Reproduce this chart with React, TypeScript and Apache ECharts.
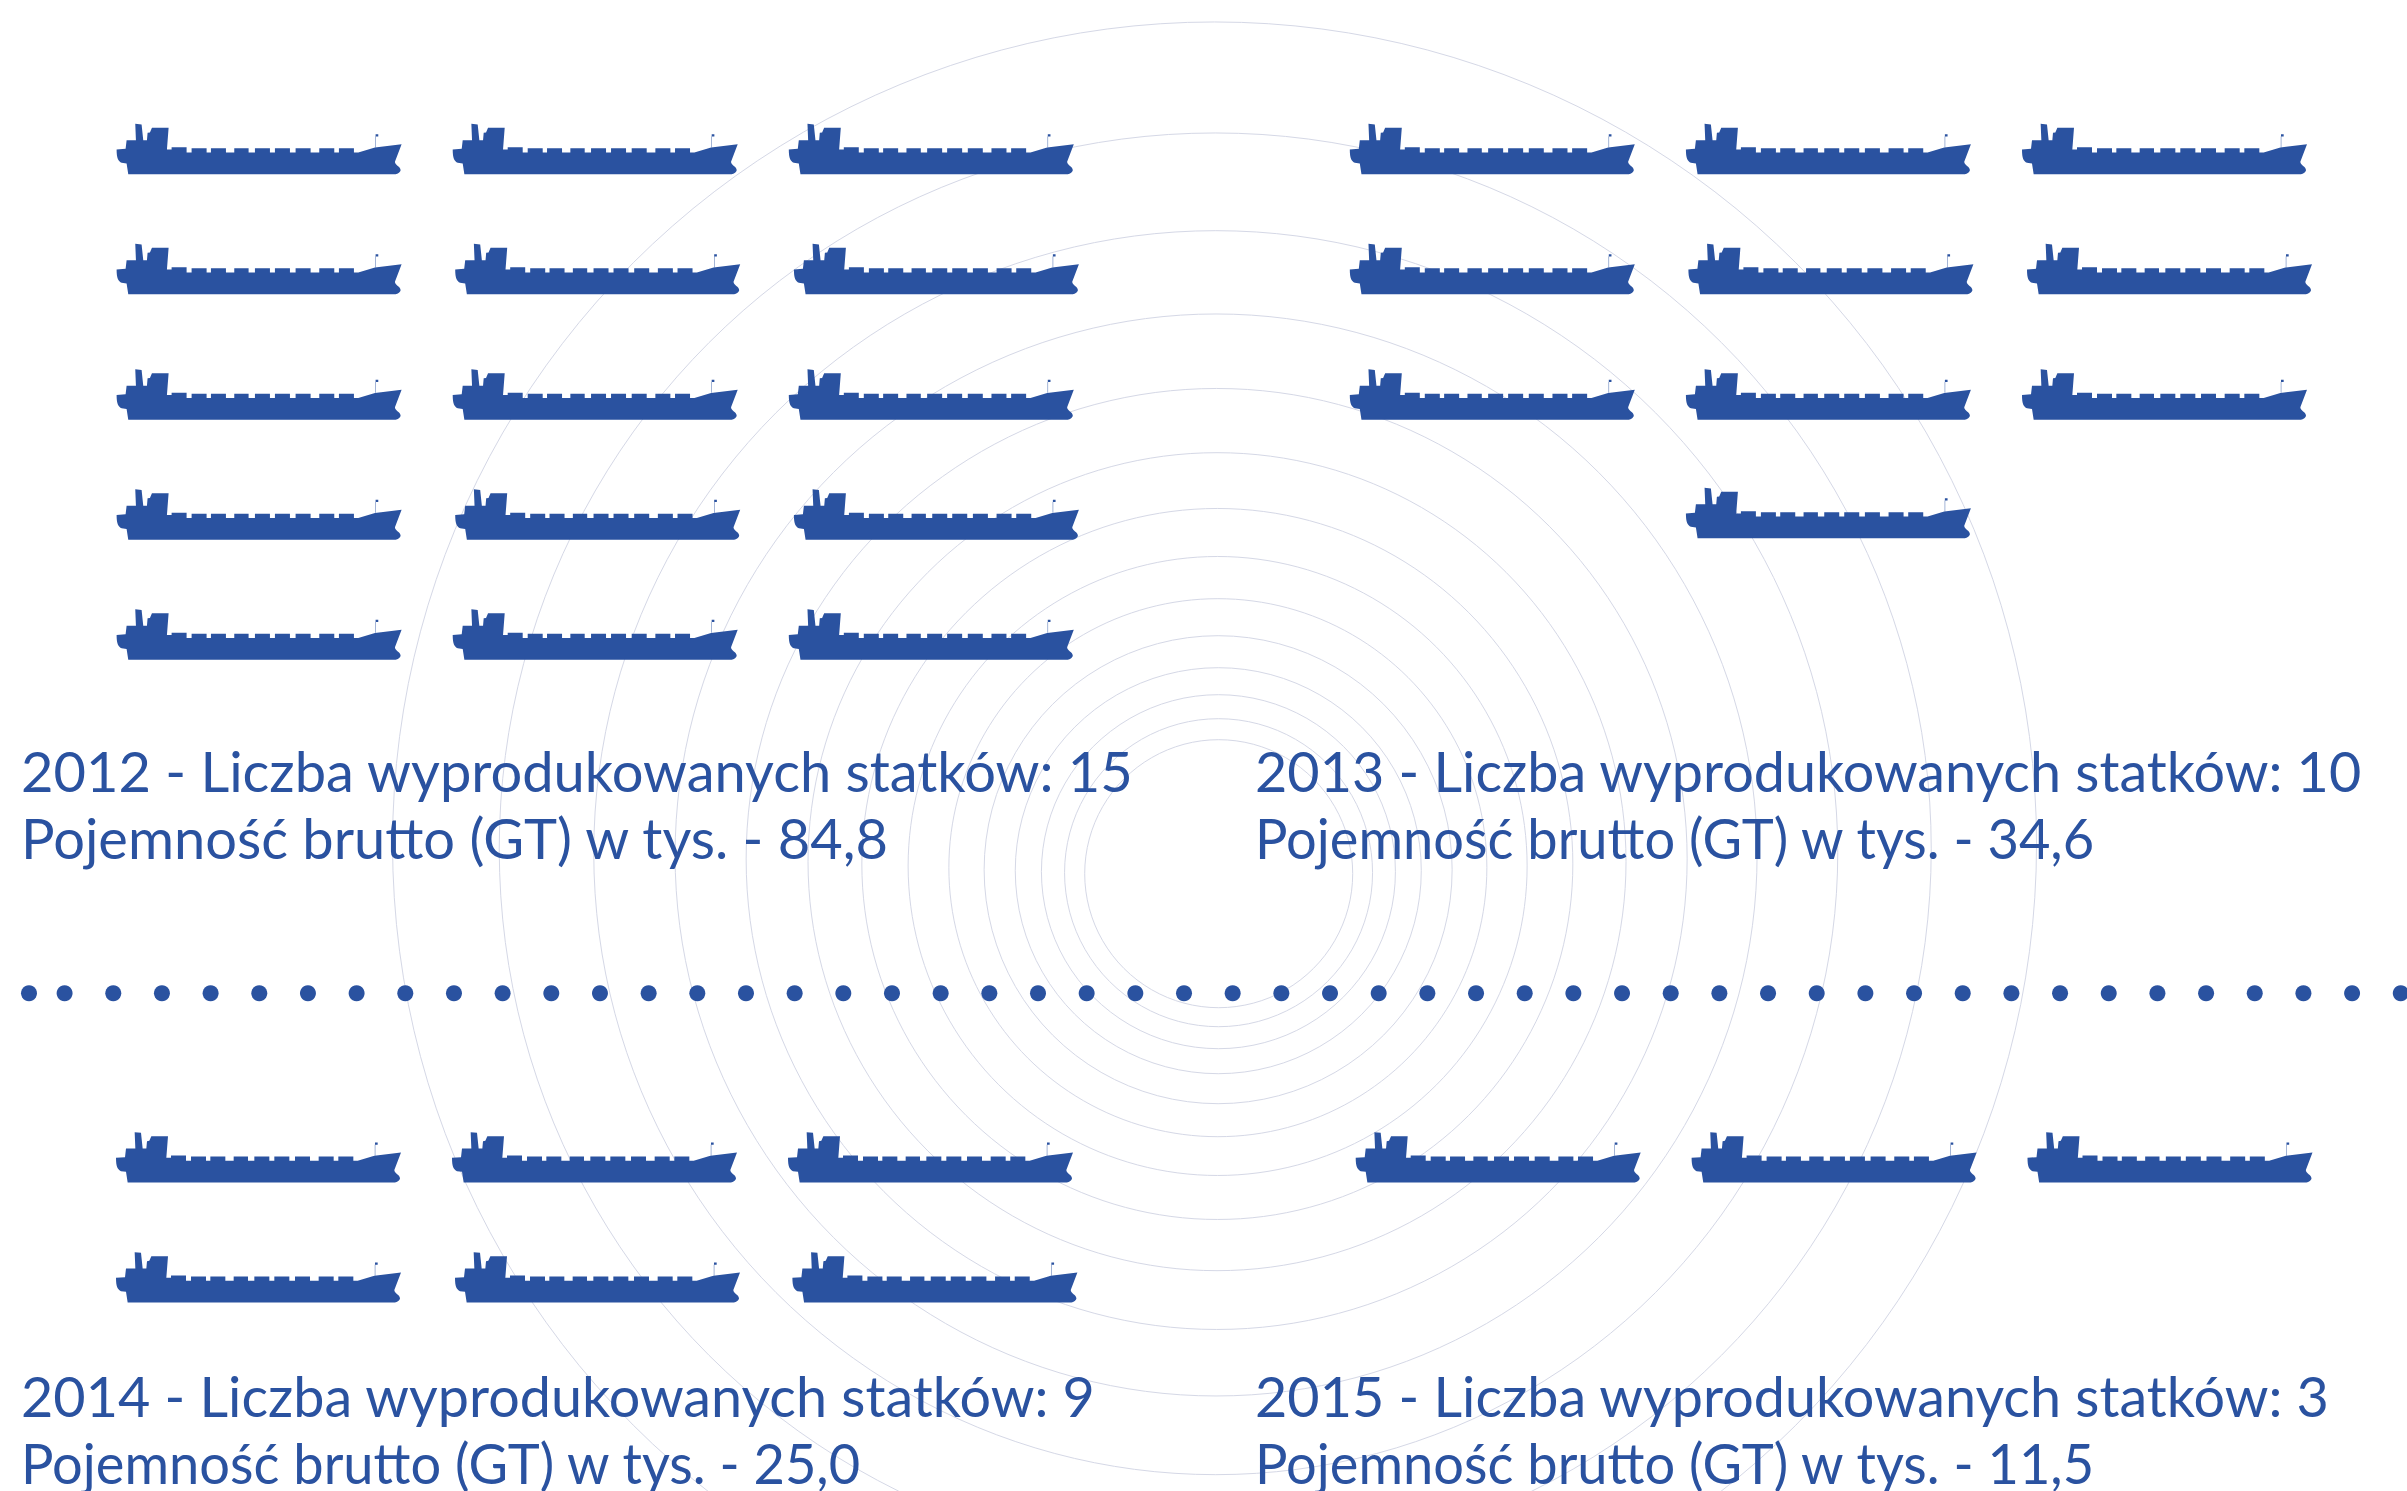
import React, { useEffect, useRef } from "react";
import * as echarts from "echarts";

const WIDTH = 2407;
const HEIGHT = 1491;
const BLUE = "#2A52A0";

// ---- data ----
const years = [2012, 2013, 2014, 2015];
const shipCounts = [15, 10, 9, 3];
const grossTonnage = ["84,8", "34,6", "25,0", "11,5"];
const countLabel = "Liczba wyprodukowanych statków";
const tonnageLabel = "Pojemność brutto (GT) w tys.";

// ---- layout ----
const textLeft = [21, 1255, 21, 1255];
const textBaselines = [[791.7, 859.3], [791.7, 859.3], [1416.7, 1484.3], [1416.7, 1484.3]];
const lineWidthScale = [[1, 1], [0.9945, 0.968], [0.9945, 0.968], [0.9945, 0.968]];
const SHIP_W = 285;
const SHIP_H = 50.3;
const slotRows: { y: number; lefts: number[] }[][] = [
  [
    { y: 149, lefts: [116.6, 452.7, 788.8] },
    { y: 269, lefts: [116.6, 455.2, 793.9] },
    { y: 394.5, lefts: [116.6, 452.7, 788.8] },
    { y: 514.5, lefts: [116.6, 455.2, 793.9] },
    { y: 634.5, lefts: [116.6, 452.7, 788.8] },
  ],
  [
    { y: 149, lefts: [1349.8, 1685.9, 2022] },
    { y: 269, lefts: [1349.8, 1688.4, 2027] },
    { y: 394.5, lefts: [1349.8, 1685.9, 2022] },
    { y: 513, lefts: [1685.9] },
  ],
  [
    { y: 1157.3, lefts: [116, 452, 788] },
    { y: 1277.3, lefts: [116, 455, 792.4] },
  ],
  [{ y: 1157.3, lefts: [1355.7, 1691.6, 2027.5] }],
];
const ringCenters = [873.7, 872.7, 871.7, 870.7, 869.7, 867.7, 866, 864, 861.7, 859, 855, 852.7, 849, 844];
const ringRadii = [134, 154, 177, 203, 234, 269, 309.5, 355.5, 409, 470.5, 541, 622, 716, 822];
const dotCentersX = [29, ...Array.from({ length: 49 }, (_, i) => 64.6 + 48.67 * i)];
const DOT_Y = 993.3;

const SHIP_PATH =
  "path://M115,222 L110,190 L95,188 C85,183 80,175 80,148 L107,146 L110,120 L138,120 L136,71 L155,73 L160,120 L171,120 L173,98 L180,97 L186,83 L236,83 L231,148 L245,148 L245,141 L290,141 L290,157 L305,157 L305,144 L350,144 L350,157 L363,157 L363,144 L408,144 L408,157 L433,157 L433,144 L476,144 L476,157 L495,157 L495,144 L540,144 L540,157 L555,157 L555,144 L600,144 L600,157 L617,157 L617,144 L662,144 L662,157 L688,157 L688,144 L733,144 L733,157 L747,157 L747,144 L792,144 L792,157 L805,157 L855,142 L935,132 L915,185 C915,195 932,200 932,210 C930,218 920,222 915,222 Z M857,102 L865,102 L865,109 L857,109 Z M856.5,109 L857.8,109 L857.8,141 L856.5,141 Z";

function shipPoints(): number[][] {
  const pts: number[][] = [];
  shipCounts.forEach((count, p) => {
    const slots = slotRows[p].flatMap((r) => r.lefts.map((l) => [l + SHIP_W / 2, r.y]));
    pts.push(...slots.slice(0, count));
  });
  return pts;
}

function textElements() {
  const out: any[] = [];
  years.forEach((year, i) => {
    const lines = [
      `${year} - ${countLabel}: ${shipCounts[i]}`,
      `${tonnageLabel} - ${grossTonnage[i]}`,
    ];
    lines.forEach((text, j) => {
      out.push({
        type: "text",
        z: 20,
        x: textLeft[i],
        y: textBaselines[i][j] - 21.5,
        scaleX: lineWidthScale[i][j],
        style: {
          text,
          fill: BLUE,
          font: "400 56px Lato",
          textAlign: "left",
          textVerticalAlign: "middle",
        },
      });
    });
  });
  return out;
}

export default function App() {
  const ref = useRef<HTMLDivElement>(null);
  useEffect(() => {
    const chart = echarts.init(ref.current!, undefined, { renderer: "svg" });
    chart.setOption({
      animation: false,
      backgroundColor: "#ffffff",
      grid: { left: 0, right: 0, top: 0, bottom: 0 },
      xAxis: { type: "value", min: 0, max: WIDTH, show: false },
      yAxis: { type: "value", min: 0, max: HEIGHT, inverse: true, show: false },
      series: [
        {
          type: "scatter",
          z: 1,
          silent: true,
          clip: false,
          symbol: "circle",
          data: ringRadii.map((r, i) => ({
            value: [1218.7 - (873.7 - ringCenters[i]) * 0.14, ringCenters[i]],
            symbolSize: r * 2,
          })),
          itemStyle: { color: "transparent", borderColor: "#D5D8E6", borderWidth: 1, opacity: 1 },
        },
        {
          type: "scatter",
          z: 2,
          silent: true,
          symbol: SHIP_PATH,
          symbolSize: [SHIP_W, SHIP_H],
          data: shipPoints(),
          itemStyle: { color: BLUE, opacity: 1 },
        },
        {
          type: "scatter",
          z: 3,
          silent: true,
          symbol: "circle",
          symbolSize: 16,
          data: dotCentersX.map((x) => [x, DOT_Y]),
          itemStyle: { color: BLUE, opacity: 1 },
        },
      ],
      graphic: { elements: textElements() },
    });
    return () => chart.dispose();
  }, []);
  return (
    <div
      ref={ref}
      style={{ position: "fixed", left: 0, top: 0, width: WIDTH, height: HEIGHT }}
    />
  );
}
